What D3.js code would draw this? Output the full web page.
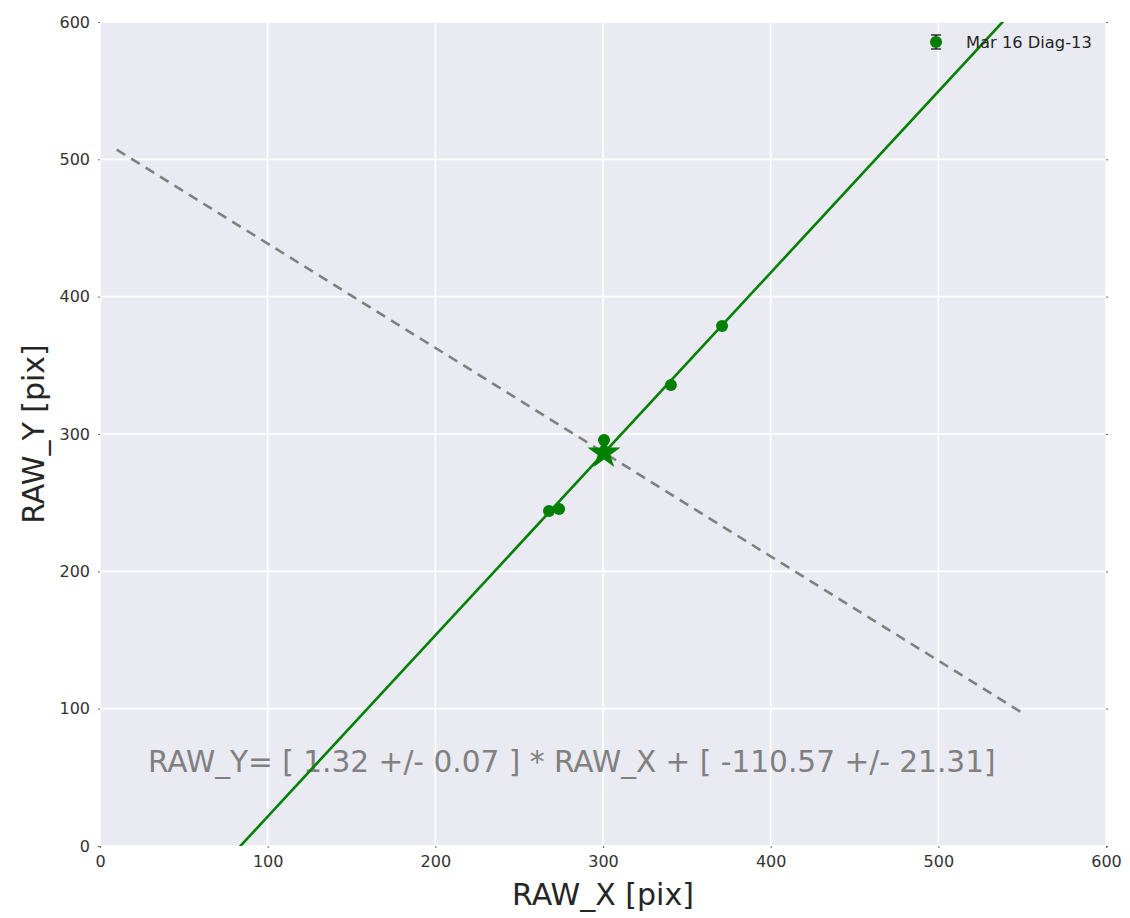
<!DOCTYPE html>
<html>
<head>
<meta charset="utf-8">
<script src="https://cdn.jsdelivr.net/npm/d3@7"></script>
<style>
  html, body { margin: 0; padding: 0; background: #ffffff; }
  svg { display: block; font-family: "DejaVu Sans", sans-serif; }
</style>
</head>
<body>
<svg id="chart" width="1130" height="918"></svg>
<script>
// Measured positions of the diagonal sources
const rawX = [267.8, 273.8, 300.6, 340.5, 371.0];
const rawY = [243.9, 245.4, 295.6, 335.7, 378.6];

// Linear fit parameters (slope, intercept)
const fitSlope = 1.32;
const fitIntercept = -110.57;
const fitSlopeErr = 0.07;
const fitInterceptErr = 21.31;

// Fitted centre (star) and the perpendicular reference line
const centreX = [300.6];
const centreY = [286.2];
const perpX = [10, 550];
const perpY = [507, 97];

const xTicks = [0, 100, 200, 300, 400, 500, 600];
const yTicks = [0, 100, 200, 300, 400, 500, 600];
const legendLabel = "Mar 16 Diag-13";

const svg = d3.select("#chart");
const plotL = 100, plotR = 1106, plotT = 22, plotB = 846;

const x = d3.scaleLinear().domain([0, 600]).range([plotL, plotR]);
const y = d3.scaleLinear().domain([0, 600]).range([plotB, plotT]);

const green = "#008000";

// Background panel
svg.append("rect")
  .attr("x", plotL).attr("y", plotT)
  .attr("width", plotR - plotL).attr("height", plotB - plotT)
  .attr("fill", "#eaeaf2");

svg.append("clipPath").attr("id", "plotclip")
  .append("rect").attr("x", plotL).attr("y", plotT)
  .attr("width", plotR - plotL).attr("height", plotB - plotT);

// Grid
svg.append("g").selectAll("line").data(xTicks).join("line")
  .attr("x1", d => x(d)).attr("x2", d => x(d))
  .attr("y1", plotT).attr("y2", plotB)
  .attr("stroke", "#ffffff").attr("stroke-width", 1.6);
svg.append("g").selectAll("line").data(yTicks).join("line")
  .attr("y1", d => y(d)).attr("y2", d => y(d))
  .attr("x1", plotL).attr("x2", plotR)
  .attr("stroke", "#ffffff").attr("stroke-width", 1.6);

// Axes with small outer ticks
const xAxis = svg.append("g").attr("transform", `translate(0,${plotB})`)
  .call(d3.axisBottom(x).tickValues(xTicks).tickSize(2).tickPadding(8).tickFormat(d3.format("d")));
const yAxis = svg.append("g").attr("transform", `translate(${plotL},0)`)
  .call(d3.axisLeft(y).tickValues(yTicks).tickSize(2).tickPadding(8).tickFormat(d3.format("d")));
const yAxisR = svg.append("g").attr("transform", `translate(${plotR},0)`)
  .call(d3.axisRight(y).tickValues(yTicks).tickSize(2).tickFormat(""));
[xAxis, yAxis, yAxisR].forEach(g => {
  g.select(".domain").remove();
  g.selectAll(".tick line").attr("stroke", "#666666");
  g.selectAll(".tick text").attr("fill", "#333333")
    .style("font-size", "16px").style("font-family", "DejaVu Sans, sans-serif");
});

// Equation annotation
svg.append("text")
  .attr("x", 148).attr("y", 772)
  .attr("fill", "#808080")
  .style("font-size", "29.6px")
  .text(`RAW_Y= [ ${fitSlope.toFixed(2)} +/- ${fitSlopeErr.toFixed(2)} ] * RAW_X + [ ${fitIntercept.toFixed(2)} +/- ${fitInterceptErr.toFixed(2)}]`);

const plot = svg.append("g").attr("clip-path", "url(#plotclip)");

// Perpendicular dashed line
plot.append("line")
  .attr("x1", x(perpX[0])).attr("y1", y(perpY[0]))
  .attr("x2", x(perpX[1])).attr("y2", y(perpY[1]))
  .attr("stroke", "#808080").attr("stroke-width", 2.6)
  .attr("stroke-dasharray", "10,7");

// Fit line
const fitDomain = [0, 600];
plot.append("line")
  .attr("x1", x(fitDomain[0])).attr("y1", y(fitSlope * fitDomain[0] + fitIntercept))
  .attr("x2", x(fitDomain[1])).attr("y2", y(fitSlope * fitDomain[1] + fitIntercept))
  .attr("stroke", green).attr("stroke-width", 2.6);

// Data points
plot.append("g").selectAll("circle").data(rawX).join("circle")
  .attr("cx", d => x(d)).attr("cy", (d, i) => y(rawY[i]))
  .attr("r", 6).attr("fill", green);

// Centre star
plot.append("path")
  .attr("d", d3.symbol().type(d3.symbolStar).size(340)())
  .attr("transform", `translate(${x(centreX[0])},${y(centreY[0])})`)
  .attr("fill", green);

// Legend
const lg = svg.append("g").attr("transform", "translate(936,42)");
lg.append("line").attr("x1", 0).attr("x2", 0).attr("y1", -7).attr("y2", 7)
  .attr("stroke", "#000").attr("stroke-width", 1.2);
lg.append("line").attr("x1", -5).attr("x2", 5).attr("y1", -7).attr("y2", -7)
  .attr("stroke", "#000").attr("stroke-width", 1.2);
lg.append("line").attr("x1", -5).attr("x2", 5).attr("y1", 7).attr("y2", 7)
  .attr("stroke", "#000").attr("stroke-width", 1.2);
lg.append("circle").attr("r", 6).attr("fill", green);
lg.append("text").attr("x", 30).attr("y", 6)
  .attr("fill", "#262626").style("font-size", "16.3px").text(legendLabel);

// Axis titles
svg.append("text")
  .attr("x", (plotL + plotR) / 2).attr("y", 905)
  .attr("text-anchor", "middle").attr("fill", "#262626")
  .style("font-size", "30px").text("RAW_X [pix]");
svg.append("text")
  .attr("transform", `translate(44,${(plotT + plotB) / 2}) rotate(-90)`)
  .attr("text-anchor", "middle").attr("fill", "#262626")
  .style("font-size", "30px").text("RAW_Y [pix]");
</script>
</body>
</html>
